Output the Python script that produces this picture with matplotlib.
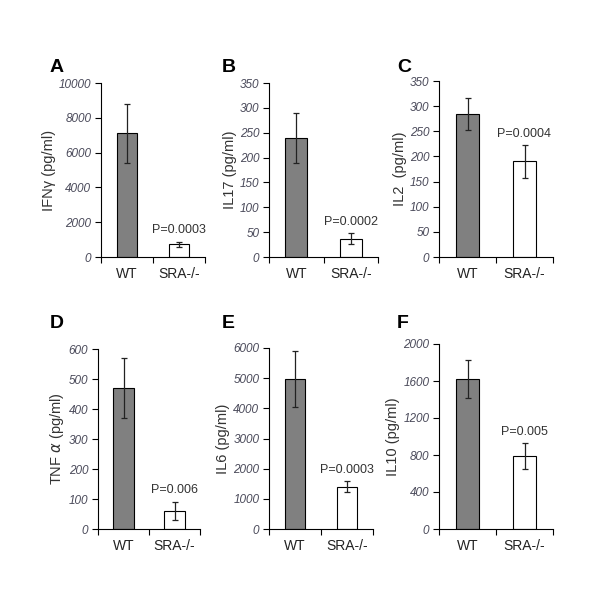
import numpy as np
import matplotlib
matplotlib.use("Agg")
import matplotlib.pyplot as plt

plt.rcParams['font.family'] = ['Liberation Sans', 'DejaVu Sans']

groups = ["WT", "SRA-/-"]
letters = ["A", "B", "C", "D", "E", "F"]
ylabels = ["IFN\u03b3 (pg/ml)", "IL17 (pg/ml)", "IL2  (pg/ml)",
           "TNF $\\alpha$ (pg/ml)", "IL6 (pg/ml)", "IL10 (pg/ml)"]
means = [[7100, 720], [240, 37], [285, 190],
         [470, 60], [4980, 1400], [1620, 785]]
errors = [[1700, 170], [50, 11], [32, 32],
          [100, 30], [930, 175], [205, 140]]
pvalues = ["P=0.0003", "P=0.0002", "P=0.0004",
           "P=0.006", "P=0.0003", "P=0.005"]
ymax = [10000, 350, 350, 600, 6000, 2000]
ystep = [2000, 50, 50, 100, 1000, 400]

# axes boxes in pixels: left, top, right, bottom (600x600 canvas)
boxes = [(101, 83, 205, 257), (269, 83, 378, 257), (439, 81, 553, 257),
         (98, 349, 200, 529), (269, 348, 373, 529), (439, 344, 553, 529)]
letter_pos = [(50, 67), (222, 67), (397, 67), (50, 323), (222, 323), (397, 323)]

fig = plt.figure(figsize=(6, 6), dpi=100)

for i in range(6):
    l, t, r, b = boxes[i]
    ax = fig.add_axes([l / 600, 1 - b / 600, (r - l) / 600, (b - t) / 600])
    x = np.arange(2)
    ax.bar(x, means[i], width=0.4, color=["#808080", "white"],
           edgecolor="black", linewidth=0.8, zorder=2)
    ax.errorbar(x, means[i], yerr=errors[i], fmt="none", ecolor="#222222",
                elinewidth=0.9, capsize=2.5, capthick=0.9, zorder=3)
    ax.annotate(pvalues[i], (1, means[i][1] + errors[i][1]),
                xytext=(0, 4), textcoords="offset points",
                ha="center", va="bottom", fontsize=9, color="#333333")
    ax.set_xlim(-0.5, 1.5)
    ax.set_ylim(0, ymax[i])
    ax.set_yticks(np.arange(0, ymax[i] + 1, ystep[i]))
    ax.set_xticks([-0.5, 0.5, 1.5])
    ax.set_xticklabels([])
    ax.set_xticks(x, minor=True)
    ax.set_xticklabels(groups, minor=True, fontsize=10, color="#222222")
    ax.tick_params(axis="x", which="minor", length=0, pad=7)
    ax.tick_params(axis="x", which="major", length=4, direction="out")
    ax.tick_params(axis="y", length=4, direction="out", labelsize=8.5,
                   labelcolor="#4a4a5a", pad=3)
    for lab in ax.get_yticklabels():
        lab.set_fontstyle("italic")
    ax.spines["top"].set_visible(False)
    ax.spines["right"].set_visible(False)
    ax.set_ylabel(ylabels[i], fontsize=10.5, color="#333333", labelpad=2)
    fig.text(letter_pos[i][0] / 600, 1 - letter_pos[i][1] / 600, letters[i],
             fontsize=14, fontweight="bold", ha="left", va="center")

fig.savefig("out.png", dpi=100)
